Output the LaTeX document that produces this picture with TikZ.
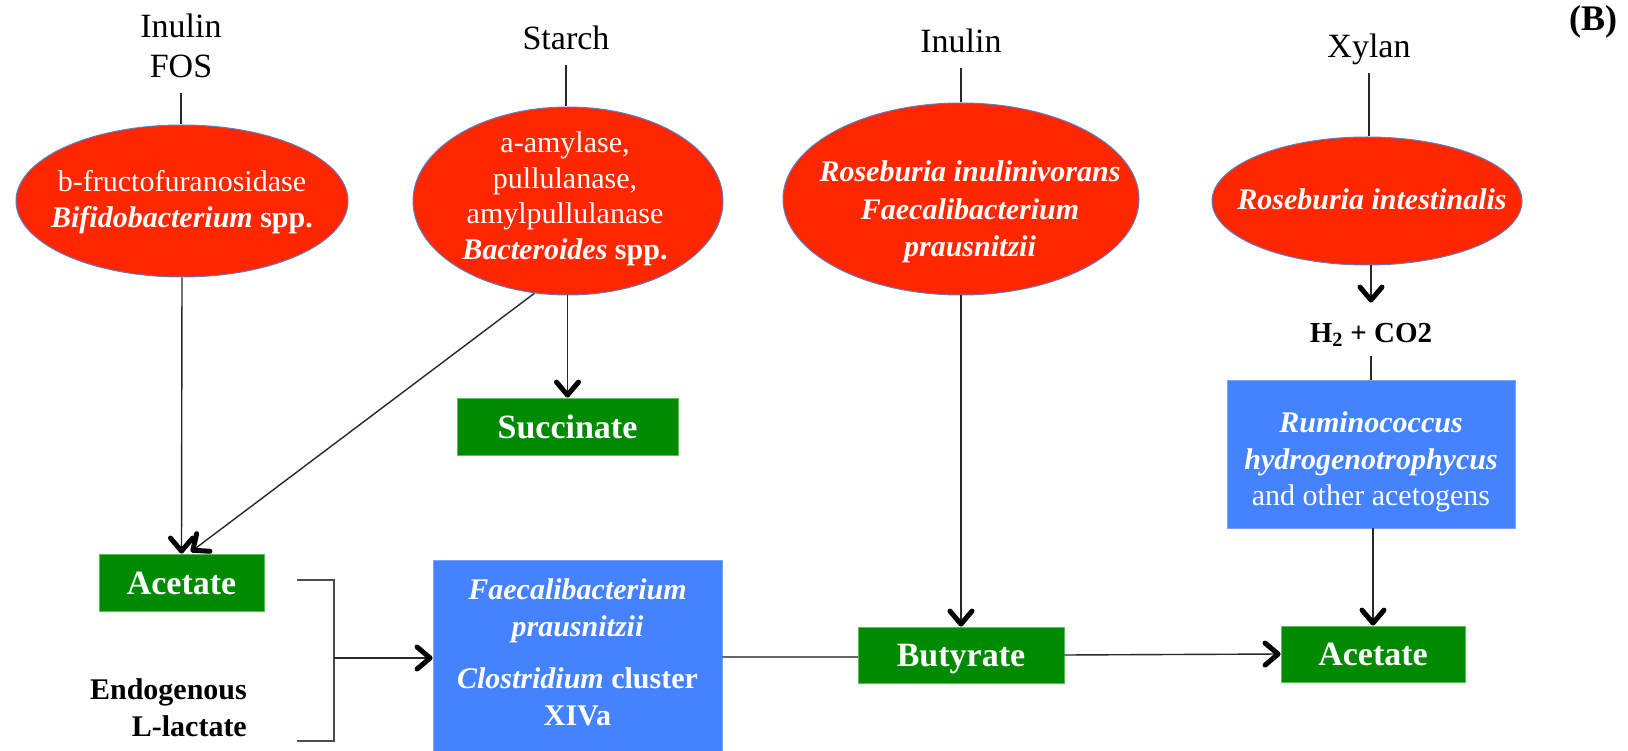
\documentclass[tikz,border=0pt]{standalone}
\usepackage{fontspec}
\setmainfont{Liberation Serif}
\usetikzlibrary{arrows.meta,shapes.geometric}
\definecolor{ellred}{RGB}{255,38,0}
\definecolor{ellline}{RGB}{95,125,195}
\definecolor{boxgreen}{RGB}{0,138,0}
\definecolor{boxgreenline}{RGB}{90,190,90}
\definecolor{boxblue}{RGB}{68,130,255}
\definecolor{boxblueline}{RGB}{120,165,255}
\definecolor{connc}{RGB}{40,40,40}
\newcommand{\bi}[1]{\textbf{\textit{#1}}}
\begin{document}
\begin{tikzpicture}[x=1pt,y=-1pt,
  redell/.style={ellipse, fill=ellred, draw=ellline, line width=1pt, inner sep=0pt},
  wtext/.style={text=white, align=center, inner sep=0pt, font=\fontsize{30}{36}\selectfont},
  greenbox/.style={rectangle, fill=boxgreen, draw=boxgreenline, line width=0.8pt, inner sep=0pt,
     text=white, font=\fontsize{34}{40}\selectfont\bfseries, text height=23pt, text depth=0pt},
  bluebox/.style={rectangle, fill=boxblue, draw=boxblueline, line width=0.8pt, inner sep=0pt},
  toplabel/.style={text=black, inner sep=0pt, align=center, font=\fontsize{34}{40}\selectfont},
  connl/.style={draw=connc, line width=1.4pt},
  arr/.style={connl, -{Straight Barb[length=13pt,width=22pt,line width=5pt,round,color=black]}}]

\useasboundingbox (0,0) rectangle (1628,751);

% blue boxes (drawn first; left one runs off the bottom edge)
\node[bluebox, minimum width=289pt, minimum height=200pt] (lb) at (577.5,660) {};
\node[bluebox, minimum width=288pt, minimum height=148pt] (rb) at (1371,454) {};

% ellipses
\node[redell, minimum width=332pt, minimum height=152pt] (e1) at (182,201) {};
\node[redell, minimum width=310pt, minimum height=188pt] (e2) at (568,201) {};
\node[redell, minimum width=356pt, minimum height=192pt] (e3) at (961,199) {};
\node[redell, minimum width=310pt, minimum height=128pt] (e4) at (1367,201) {};

\node[wtext] (e1t) at (182,202) {b-fructofuranosidase\\\bi{Bifidobacterium} \textbf{spp.}};
\node[wtext, font=\fontsize{30}{35.5}\selectfont] (e2t) at (565,199) {a-amylase,\\pullulanase,\\amylpullulanase\\\bi{Bacteroides} \textbf{spp.}};
\node[wtext, font=\fontsize{30}{37.5}\selectfont\bfseries\itshape] (e3t) at (970,212) {Roseburia inulinivorans\\Faecalibacterium\\prausnitzii};
\node[wtext, font=\fontsize{30}{36}\selectfont\bfseries\itshape] (e4t) at (1372,199) {Roseburia intestinalis};

% top labels
\node[toplabel] (lab1) at (181,46) {Inulin\\FOS};
\node[toplabel, anchor=base] (lab2) at (566,50) {Starch};
\node[toplabel, anchor=base] (lab3) at (961,53) {Inulin};
\node[toplabel, anchor=base] (lab4) at (1369,58) {Xylan};
\node[toplabel, anchor=base, font=\fontsize{36}{40}\selectfont\bfseries] (lblB) at (1593,31) {(B)};

% green boxes
\node[greenbox, minimum width=221pt, minimum height=57pt] (succ) at (567.5,426.5) {Succinate};
\node[greenbox, minimum width=165pt, minimum height=57pt] (acL) at (181.5,582.5) {Acetate};
\node[greenbox, minimum width=206pt, minimum height=56pt] (but) at (961,655) {Butyrate};
\node[greenbox, minimum width=184pt, minimum height=56pt] (acR) at (1373,654) {Acetate};

% blue box texts
\node[wtext, font=\fontsize{30}{36.5}\selectfont] (rbt) at (1371,462) {\bi{Ruminococcus}\\\bi{hydrogenotrophycus}\\and other acetogens};
\node[wtext, font=\fontsize{30}{37}\selectfont\bfseries] (lbt) at (577.5,652) {\textit{Faecalibacterium}\\\textit{prausnitzii}\\[15pt]\textit{Clostridium} cluster\\XIVa};

% other texts
\node[toplabel, anchor=base, font=\fontsize{29}{34}\selectfont\bfseries] (h2) at (1371,342) {H\textsubscript{2} + CO2};
\node[toplabel, align=right, anchor=east, font=\fontsize{30}{37}\selectfont\bfseries] (endo) at (247,708) {Endogenous\\L-lactate};

% bracket coordinates
\coordinate (bt) at (297,580);
\coordinate (bm) at (334,658);
\coordinate (bb) at (297,741);

% connectors: substrates to ellipses
\draw[connl, shorten <=15pt] (lab1.south) -- (lab1.south |- e1.north);
\draw[connl, shorten <=15pt] (lab2.base) -- (lab2.base |- e2.north);
\draw[connl, shorten <=15pt] (lab3.base) -- (lab3.base |- e3.north);
\draw[connl, shorten <=7pt] (lab4.south) -- (lab4.south |- e4.north);

% arrows
\draw[arr] (e1.south) -- (acL.north);
\draw[arr, shorten >=3pt] (e2.250) -- ([xshift=7pt]acL.north);
\draw[arr] (e2.south -| succ.north) -- (succ.north);
\draw[arr] (e3.south) -- (but.north);
\draw[arr, shorten >=20pt] (e4.south -| h2.base) -- (h2.north);
\draw[connl, shorten <=9pt] (h2.south) -- (h2.south |- rb.north);
\draw[arr] (rb.south -| acR.north) -- (acR.north);

% bracket and lower chain
\draw[connl, line width=1.6pt, draw=black!70] (bt) -| (bm) |- (bb);
\draw[arr] (bm) -- (bm -| lb.west);
\draw[connl, draw=black!60] (lb.east |- 0,657) -- (but.west |- 0,657);
\draw[arr] (but.east) -- (acR.west);
\end{tikzpicture}
\end{document}
